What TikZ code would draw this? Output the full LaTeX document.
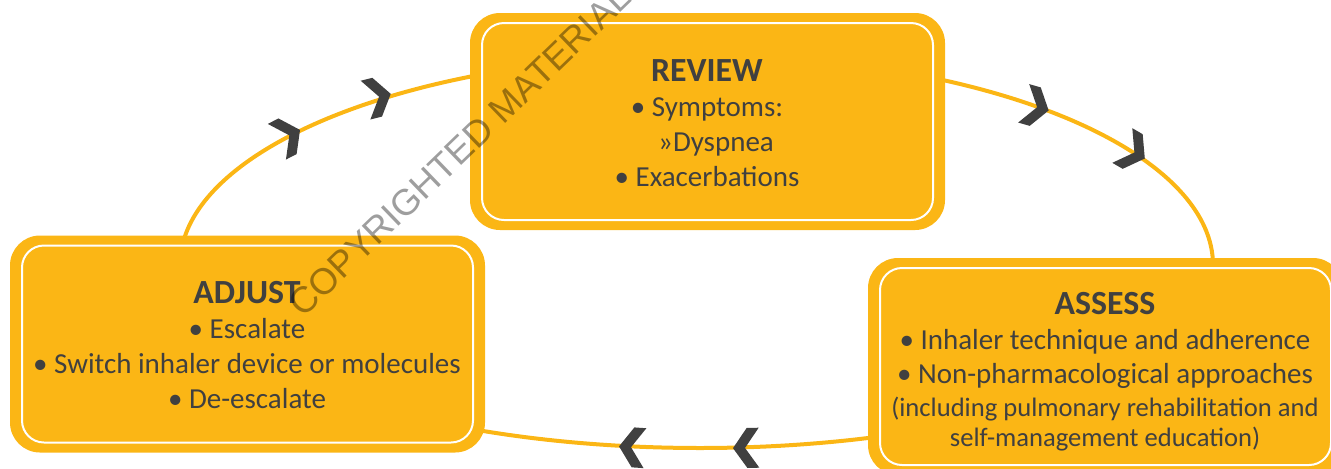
\documentclass[tikz,border=0pt]{standalone}
\usepackage{fontspec}
\setmainfont{Carlito}
\newfontfamily\wmfont{Liberation Sans}
\definecolor{ybox}{HTML}{FBB615}
\definecolor{dgray}{HTML}{404040}
\newcommand\boxtitle[1]{{\fontsize{16.9}{17.5}\selectfont\bfseries #1}}
\newcommand\smallline[1]{{\fontsize{13.3}{16}\selectfont #1}}
\tikzset{
  box/.style={rectangle, rounded corners=15pt, fill=ybox, minimum width=237.5pt,
    minimum height=108.5pt, inner sep=0pt,
    path picture={\draw[white, line width=1pt, rounded corners=11pt]
      ([shift={(6pt,-5pt)}]path picture bounding box.north west) rectangle
      ([shift={(-6pt,5pt)}]path picture bounding box.south east);}},
  boxtext/.style={anchor=north, inner sep=0pt, align=center, text=dgray,
    font=\fontsize{14.5}{17.5}\selectfont},
  cycleline/.style={draw=ybox, line width=2pt},
  chev/.pic={\fill[dgray] (9,0) -- (-5,20) -- (-17,20) -- (-3,0) -- (-17,-20) -- (-5,-20) -- cycle;},
}
\begin{document}
\begin{tikzpicture}[x=0.5pt, y=-0.5pt]
\useasboundingbox (0,0) rectangle (1331,468);
% cycle line (three elliptical arcs, partly hidden by the boxes)
\draw[cycleline] plot[domain=112:182, samples=80] ({700+520*cos(\x)}, {265-210*sin(\x)});
\draw[cycleline] plot[domain=-3:66, samples=80] ({700+513*cos(\x)}, {265-210*sin(\x)});
\draw[cycleline] plot[domain=66:118, samples=60] ({700+515*cos(\x)}, {265+183*sin(\x)});
% boxes
\node[box] (review) at (707.5,121.5) {};
\node[box] (adjust) at (247.5,344) {};
\node[box] (assess) at (1105.5,366.5) {};
% texts
\node[boxtext] (reviewtxt) at (707,59) {\boxtitle{REVIEW}\\ • Symptoms:\\ \hspace*{9pt}»Dyspnea\\ • Exacerbations};
\node[boxtext] (adjusttxt) at (247,281) {\boxtitle{ADJUST}\\ • Escalate\\ • Switch inhaler device or molecules\\ • De-escalate};
\node[boxtext, font=\fontsize{14.5}{17.25}\selectfont] (assesstxt) at (1105,292) {\boxtitle{ASSESS}\\ • Inhaler technique and adherence\\ • Non-pharmacological approaches\\[-0.75pt] \smallline{(including pulmonary rehabilitation and}\\[-2.25pt] \smallline{self-management education)}};
% chevrons
\pic[rotate=27] (ch1) at (292,134) {chev};
\pic[rotate=14] (ch2) at (382,96) {chev};
\pic[rotate=-16] (ch3) at (1040,108) {chev};
\pic[rotate=-30] (ch4) at (1137,154) {chev};
\pic[rotate=181] (ch5) at (742,448) {chev};
\pic[rotate=176] (ch6) at (628,447) {chev};
% watermark
\node[rotate=44, anchor=base west, inner sep=0pt, text=black, text opacity=0.38,
  font=\wmfont\fontsize{18.3}{22}\selectfont] (wm) at (303,319) {COPYRIGHTED MATERIAL};
\end{tikzpicture}
\end{document}
